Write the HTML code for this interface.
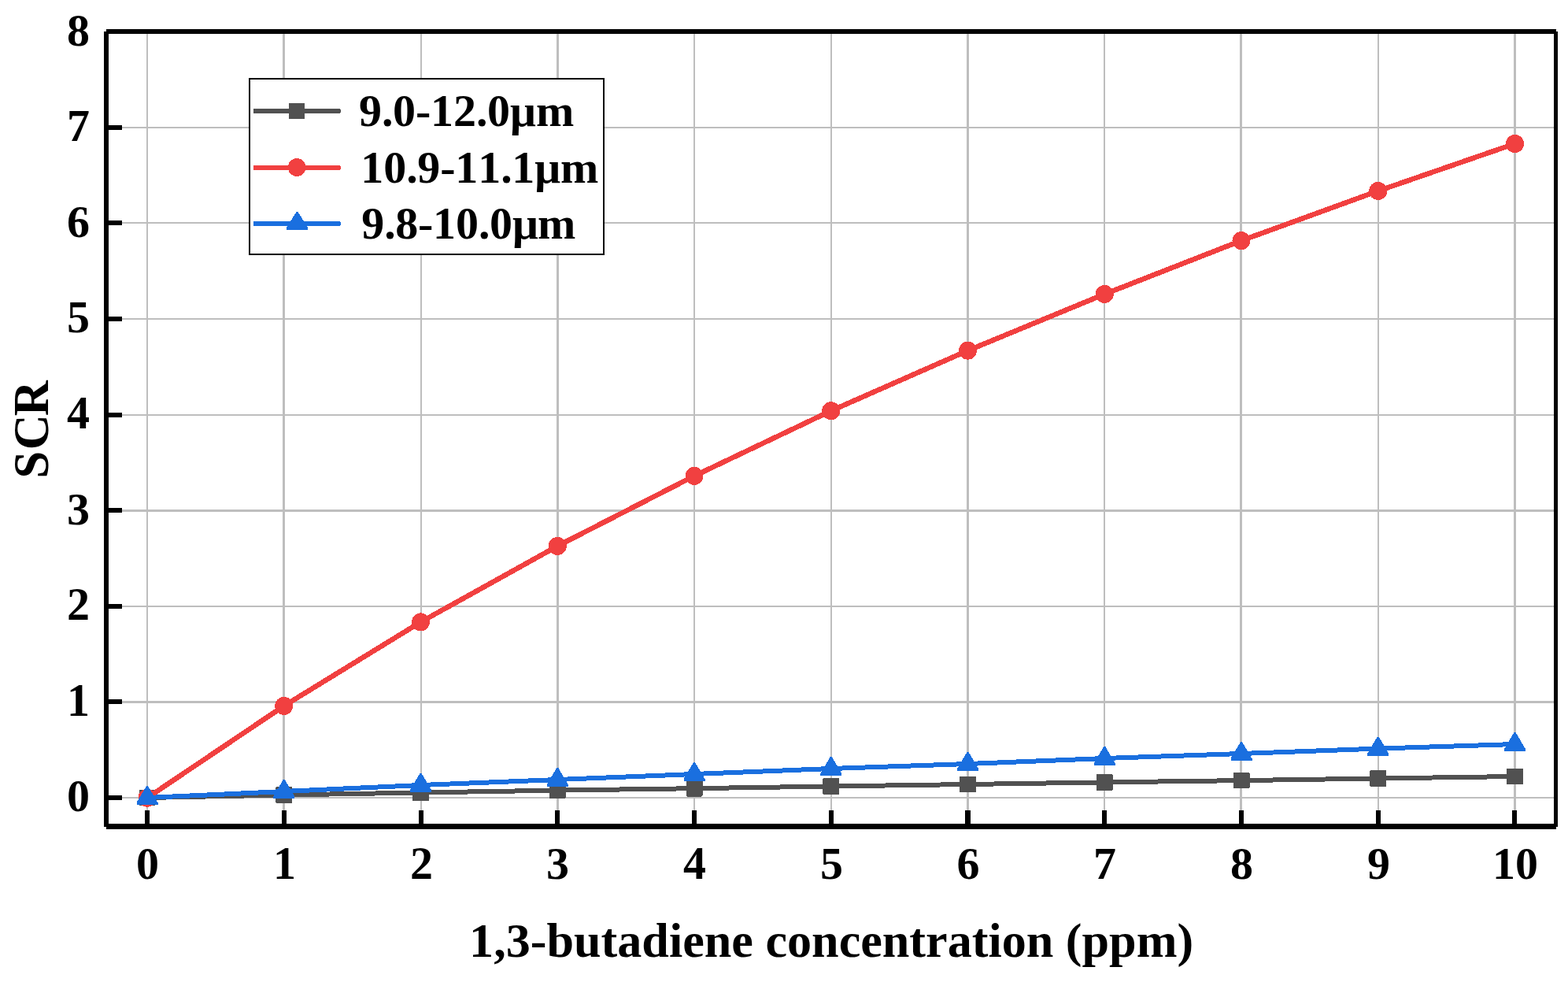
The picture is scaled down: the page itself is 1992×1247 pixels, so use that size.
<!DOCTYPE html>
<html lang="en"><head><meta charset="utf-8"><title>SCR vs 1,3-butadiene concentration</title>
<style>html,body{margin:0;padding:0;background:#fff;}body{width:1992px;height:1247px;overflow:hidden;}svg{display:block;}text{font-family:"Liberation Serif",serif;font-weight:bold;fill:#000;font-kerning:none;}</style>
</head><body>
<svg width="1992" height="1247" viewBox="0 0 1992 1247">
<rect x="0" y="0" width="1992" height="1247" fill="#ffffff"/>
<g fill="#BEBEBE">
<rect x="186" y="43" width="2" height="1003"/>
<rect x="359" y="43" width="3" height="1003"/>
<rect x="534" y="43" width="2" height="1003"/>
<rect x="707" y="43" width="3" height="1003"/>
<rect x="881" y="43" width="2" height="1003"/>
<rect x="1055" y="43" width="2" height="1003"/>
<rect x="1228" y="43" width="3" height="1003"/>
<rect x="1402" y="43" width="2" height="1003"/>
<rect x="1575" y="43" width="3" height="1003"/>
<rect x="1750" y="43" width="2" height="1003"/>
<rect x="1923" y="43" width="3" height="1003"/>
<rect x="138" y="1012" width="1836" height="2"/>
<rect x="138" y="890" width="1836" height="3"/>
<rect x="138" y="769" width="1836" height="2"/>
<rect x="138" y="647" width="1836" height="3"/>
<rect x="138" y="526" width="1836" height="2"/>
<rect x="138" y="404" width="1836" height="2"/>
<rect x="138" y="282" width="1836" height="2"/>
<rect x="138" y="161" width="1836" height="2"/>
</g>
<g fill="#000">
<rect x="184" y="1029" width="6" height="18"/>
<rect x="358" y="1029" width="6" height="18"/>
<rect x="532" y="1029" width="6" height="18"/>
<rect x="705" y="1029" width="6" height="18"/>
<rect x="879" y="1029" width="6" height="18"/>
<rect x="1053" y="1029" width="6" height="18"/>
<rect x="1226" y="1029" width="7" height="18"/>
<rect x="1400" y="1029" width="6" height="18"/>
<rect x="1574" y="1029" width="6" height="18"/>
<rect x="1748" y="1029" width="6" height="18"/>
<rect x="1921" y="1029" width="6" height="18"/>
<rect x="137" y="1010" width="18" height="6"/>
<rect x="137" y="888" width="18" height="6"/>
<rect x="137" y="767" width="18" height="6"/>
<rect x="137" y="645" width="18" height="6"/>
<rect x="137" y="524" width="18" height="6"/>
<rect x="137" y="402" width="18" height="6"/>
<rect x="137" y="280" width="18" height="6"/>
<rect x="137" y="159" width="18" height="6"/>
<rect x="135" y="37" width="1842" height="6"/>
<rect x="135" y="1046" width="1842" height="7"/>
<rect x="132" y="40" width="6" height="1010"/>
<rect x="1974" y="40" width="5" height="1010"/>
</g>
<rect x="317" y="100" width="450" height="223" fill="#fff" stroke="#000" stroke-width="2"/>
<g shape-rendering="crispEdges">
<polyline points="187.00,1013.00 360.75,1009.50 534.50,1006.50 708.25,1003.60 882.00,1001.20 1055.75,998.50 1229.50,996.00 1403.25,993.40 1577.00,991.10 1750.75,988.50 1924.50,986.00" fill="none" stroke="#515151" stroke-width="6" stroke-linejoin="round" stroke-linecap="round"/>
<g fill="#515151">
<rect x="176.50" y="1002.70" width="21" height="20.6" rx="1.2"/>
<rect x="350.25" y="999.20" width="21" height="20.6" rx="1.2"/>
<rect x="524.00" y="996.20" width="21" height="20.6" rx="1.2"/>
<rect x="697.75" y="993.30" width="21" height="20.6" rx="1.2"/>
<rect x="871.50" y="990.90" width="21" height="20.6" rx="1.2"/>
<rect x="1045.25" y="988.20" width="21" height="20.6" rx="1.2"/>
<rect x="1219.00" y="985.70" width="21" height="20.6" rx="1.2"/>
<rect x="1392.75" y="983.10" width="21" height="20.6" rx="1.2"/>
<rect x="1566.50" y="980.80" width="21" height="20.6" rx="1.2"/>
<rect x="1740.25" y="978.20" width="21" height="20.6" rx="1.2"/>
<rect x="1914.00" y="975.70" width="21" height="20.6" rx="1.2"/>
</g></g>
<g shape-rendering="crispEdges">
<polyline points="187.00,1013.20 360.75,896.40 534.50,789.90 708.25,693.40 882.00,604.40 1055.75,521.70 1229.50,445.20 1403.25,373.50 1577.00,305.60 1750.75,242.50 1924.50,182.50" fill="none" stroke="#F14040" stroke-width="6.5" stroke-linejoin="round" stroke-linecap="round"/>
<g fill="#F14040">
<circle cx="187.00" cy="1013.20" r="11.5"/>
<circle cx="360.75" cy="896.40" r="11.5"/>
<circle cx="534.50" cy="789.90" r="11.5"/>
<circle cx="708.25" cy="693.40" r="11.5"/>
<circle cx="882.00" cy="604.40" r="11.5"/>
<circle cx="1055.75" cy="521.70" r="11.5"/>
<circle cx="1229.50" cy="445.20" r="11.5"/>
<circle cx="1403.25" cy="373.50" r="11.5"/>
<circle cx="1577.00" cy="305.60" r="11.5"/>
<circle cx="1750.75" cy="242.50" r="11.5"/>
<circle cx="1924.50" cy="182.50" r="11.5"/>
</g></g>
<g shape-rendering="crispEdges">
<polyline points="187.00,1013.00 360.75,1005.00 534.50,997.00 708.25,990.00 882.00,983.00 1055.75,976.00 1229.50,970.00 1403.25,963.00 1577.00,957.00 1750.75,950.60 1924.50,945.00" fill="none" stroke="#1A6FDF" stroke-width="6" stroke-linejoin="round" stroke-linecap="round"/>
<g fill="#1A6FDF">
<polygon points="186.00,998.00 188.00,998.00 200.50,1019.20 200.50,1022.00 173.50,1022.00 173.50,1019.20"/>
<polygon points="359.75,990.00 361.75,990.00 374.25,1011.20 374.25,1014.00 347.25,1014.00 347.25,1011.20"/>
<polygon points="533.50,982.00 535.50,982.00 548.00,1003.20 548.00,1006.00 521.00,1006.00 521.00,1003.20"/>
<polygon points="707.25,975.00 709.25,975.00 721.75,996.20 721.75,999.00 694.75,999.00 694.75,996.20"/>
<polygon points="881.00,968.00 883.00,968.00 895.50,989.20 895.50,992.00 868.50,992.00 868.50,989.20"/>
<polygon points="1054.75,961.00 1056.75,961.00 1069.25,982.20 1069.25,985.00 1042.25,985.00 1042.25,982.20"/>
<polygon points="1228.50,955.00 1230.50,955.00 1243.00,976.20 1243.00,979.00 1216.00,979.00 1216.00,976.20"/>
<polygon points="1402.25,948.00 1404.25,948.00 1416.75,969.20 1416.75,972.00 1389.75,972.00 1389.75,969.20"/>
<polygon points="1576.00,942.00 1578.00,942.00 1590.50,963.20 1590.50,966.00 1563.50,966.00 1563.50,963.20"/>
<polygon points="1749.75,935.60 1751.75,935.60 1764.25,956.80 1764.25,959.60 1737.25,959.60 1737.25,956.80"/>
<polygon points="1923.50,930.00 1925.50,930.00 1938.00,951.20 1938.00,954.00 1911.00,954.00 1911.00,951.20"/>
</g></g>
<g shape-rendering="crispEdges">
<path d="M322,138 H431 Q433,138 433,141 Q433,144 431,144 H322 Z" fill="#515151"/>
<g fill="#515151">
<rect x="367" y="131" width="20" height="20"/>
</g>
<path d="M322,210 H431 Q433,210 433,213 Q433,216 431,216 H322 Z" fill="#F14040"/>
<g fill="#F14040">
<circle cx="377.2" cy="212.5" r="11.4"/>
</g>
<path d="M322,281 H431 Q433,281 433,284 Q433,287 431,287 H322 Z" fill="#1A6FDF"/>
<g fill="#1A6FDF">
<polygon points="376.5,269 378.5,269 391,289.2 391,292 364,292 364,289.2"/>
</g>
</g>
<text x="456 485 499 528 547 576 605 619 648 681" y="159.7" font-size="58">9.0-12.0μm</text>
<text x="458.3 487.3 516.3 530.3 559.3 578.3 607.3 636.3 650.3 679.3 712" y="231.7" font-size="58">10.9-11.1μm</text>
<text x="459.2 488.2 502.2 531 550 579 608 622 651 683" y="302.7" font-size="58">9.8-10.0μm</text>
<g font-size="58" text-anchor="middle">
<text x="187.5" y="1115.55">0</text>
<text transform="translate(361.5,1116) scale(1,1.02)">1</text>
<text transform="translate(535.5,1116) scale(1,1.02)">2</text>
<text x="708.5" y="1115.55">3</text>
<text transform="translate(882.5,1116) scale(1,1.02)">4</text>
<text x="1056.5" y="1115.55">5</text>
<text x="1230" y="1115.55">6</text>
<text x="1403.5" y="1116">7</text>
<text x="1577.5" y="1115.55">8</text>
<text x="1751.5" y="1115.55">9</text>
<text x="1925" y="1115.55">10</text>
<text x="99.5" y="1029.55">0</text>
<text transform="translate(99.5,909) scale(1,1.02)">1</text>
<text transform="translate(99.5,787) scale(1,1.02)">2</text>
<text x="99.5" y="665.55">3</text>
<text transform="translate(99.5,544) scale(1,1.02)">4</text>
<text x="99.5" y="421.55">5</text>
<text x="99.5" y="300.55">6</text>
<text x="99.5" y="179">7</text>
<text x="99.5" y="57.55">8</text>
</g>
<text x="596.1" y="1215" font-size="62.15">1,3-butadiene concentration (ppm)</text>
<text transform="translate(61,607.6) rotate(-90) scale(1,1.02)" x="0 36.3 79.43" y="0" font-size="62.15">SCR</text>
</svg></body></html>
